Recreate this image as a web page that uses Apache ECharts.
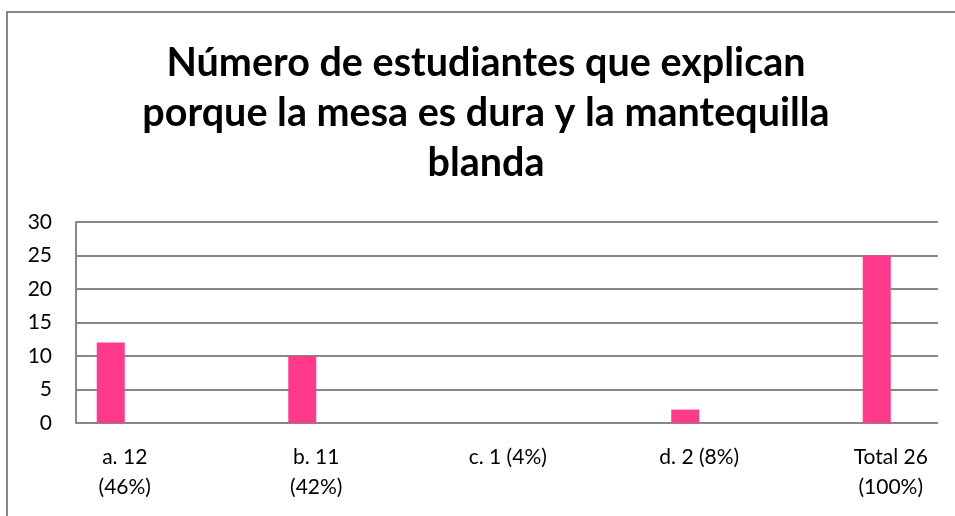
<!DOCTYPE html>
<html>
<head>
<meta charset="utf-8">
<title>Número de estudiantes</title>
<script src="https://cdn.jsdelivr.net/npm/echarts@6/dist/echarts.min.js"></script>
<style>
  html, body { margin: 0; padding: 0; background: #fff; }
  #chart { width: 955px; height: 516px; }
</style>
</head>
<body>
<div id="chart"></div>
<script>
// datos
var categorias = ['a. 12\n(46%)', 'b. 11\n(42%)', 'c. 1 (4%)', 'd. 2 (8%)', 'Total 26\n(100%)'];
var estudiantes = [12, 10, 0, 2, 25];
var yTicks = [0, 5, 10, 15, 20, 25, 30];

var gris = '#878787';
var rosa = '#ff3a8a';
var fuente = 'Lato, "Open Sans", sans-serif';

// en la imagen cada categoria mide ~191.5px y empieza a la izquierda del marco
var anchoCat = 191.5;
var idx = categorias.map(function (c, i) { return i; });
var datosBarras = estudiantes.map(function (v, i) { return [i, v]; });
var datosVacios = categorias.map(function (c, i) { return [i, '-']; });

var myChart = echarts.init(document.getElementById('chart'));
var option = {
    backgroundColor: '#fff',
    animation: false,
    title: {
        text: 'Número de estudiantes que explican\nporque la mesa es dura y la mantequilla\nblanda',
        left: 481,
        top: 33,
        textAlign: 'center',
        textStyle: {
            fontFamily: fuente,
            fontWeight: 'bold',
            fontSize: 39.5,
            lineHeight: 50,
            color: '#000'
        }
    },
    graphic: [{
        type: 'rect',
        shape: { x: 7, y: 12, width: 1000, height: 600 },
        style: { fill: 'none', stroke: gris, lineWidth: 2 },
        silent: true
    }],
    grid: [
        // marco con lineas de division
        { left: 76, right: 17, top: 222, bottom: 93 },
        // barras
        { left: 29, right: 0, top: 222, bottom: 93 }
    ],
    xAxis: [
        { type: 'value', gridIndex: 0, show: false, min: 0, max: 1 },
        {
            type: 'value', gridIndex: 1,
            min: -0.5, max: -0.5 + 926 / anchoCat,
            axisLine: { show: false }, axisTick: { show: false },
            splitLine: { show: false },
            axisLabel: {
                customValues: idx,
                formatter: function (v) { return categorias[Math.round(v)]; },
                margin: 19, fontFamily: fuente, fontSize: 21,
                lineHeight: 30, color: '#000'
            }
        }
    ],
    yAxis: [
        {
            type: 'value', gridIndex: 0,
            min: yTicks[0], max: yTicks[yTicks.length - 1], interval: 5,
            axisLine: { show: true, lineStyle: { color: gris, width: 2 } },
            axisTick: { show: false },
            splitLine: { show: true, lineStyle: { color: gris, width: 2 } },
            axisLabel: { margin: 24, fontFamily: fuente, fontSize: 21, color: '#000' }
        },
        {
            type: 'value', gridIndex: 1,
            min: yTicks[0], max: yTicks[yTicks.length - 1], interval: 5,
            show: false
        }
    ],
    series: [
        {
            name: 'estudiantes', type: 'bar', xAxisIndex: 1, yAxisIndex: 1,
            data: datosBarras, barWidth: 28, barGap: '0%',
            itemStyle: { color: rosa }
        },
        {
            name: 'vacia', type: 'bar', xAxisIndex: 1, yAxisIndex: 1,
            data: datosVacios, barWidth: 28, barGap: '0%',
            itemStyle: { color: rosa }
        }
    ]
};
myChart.setOption(option);
</script>
</body>
</html>
